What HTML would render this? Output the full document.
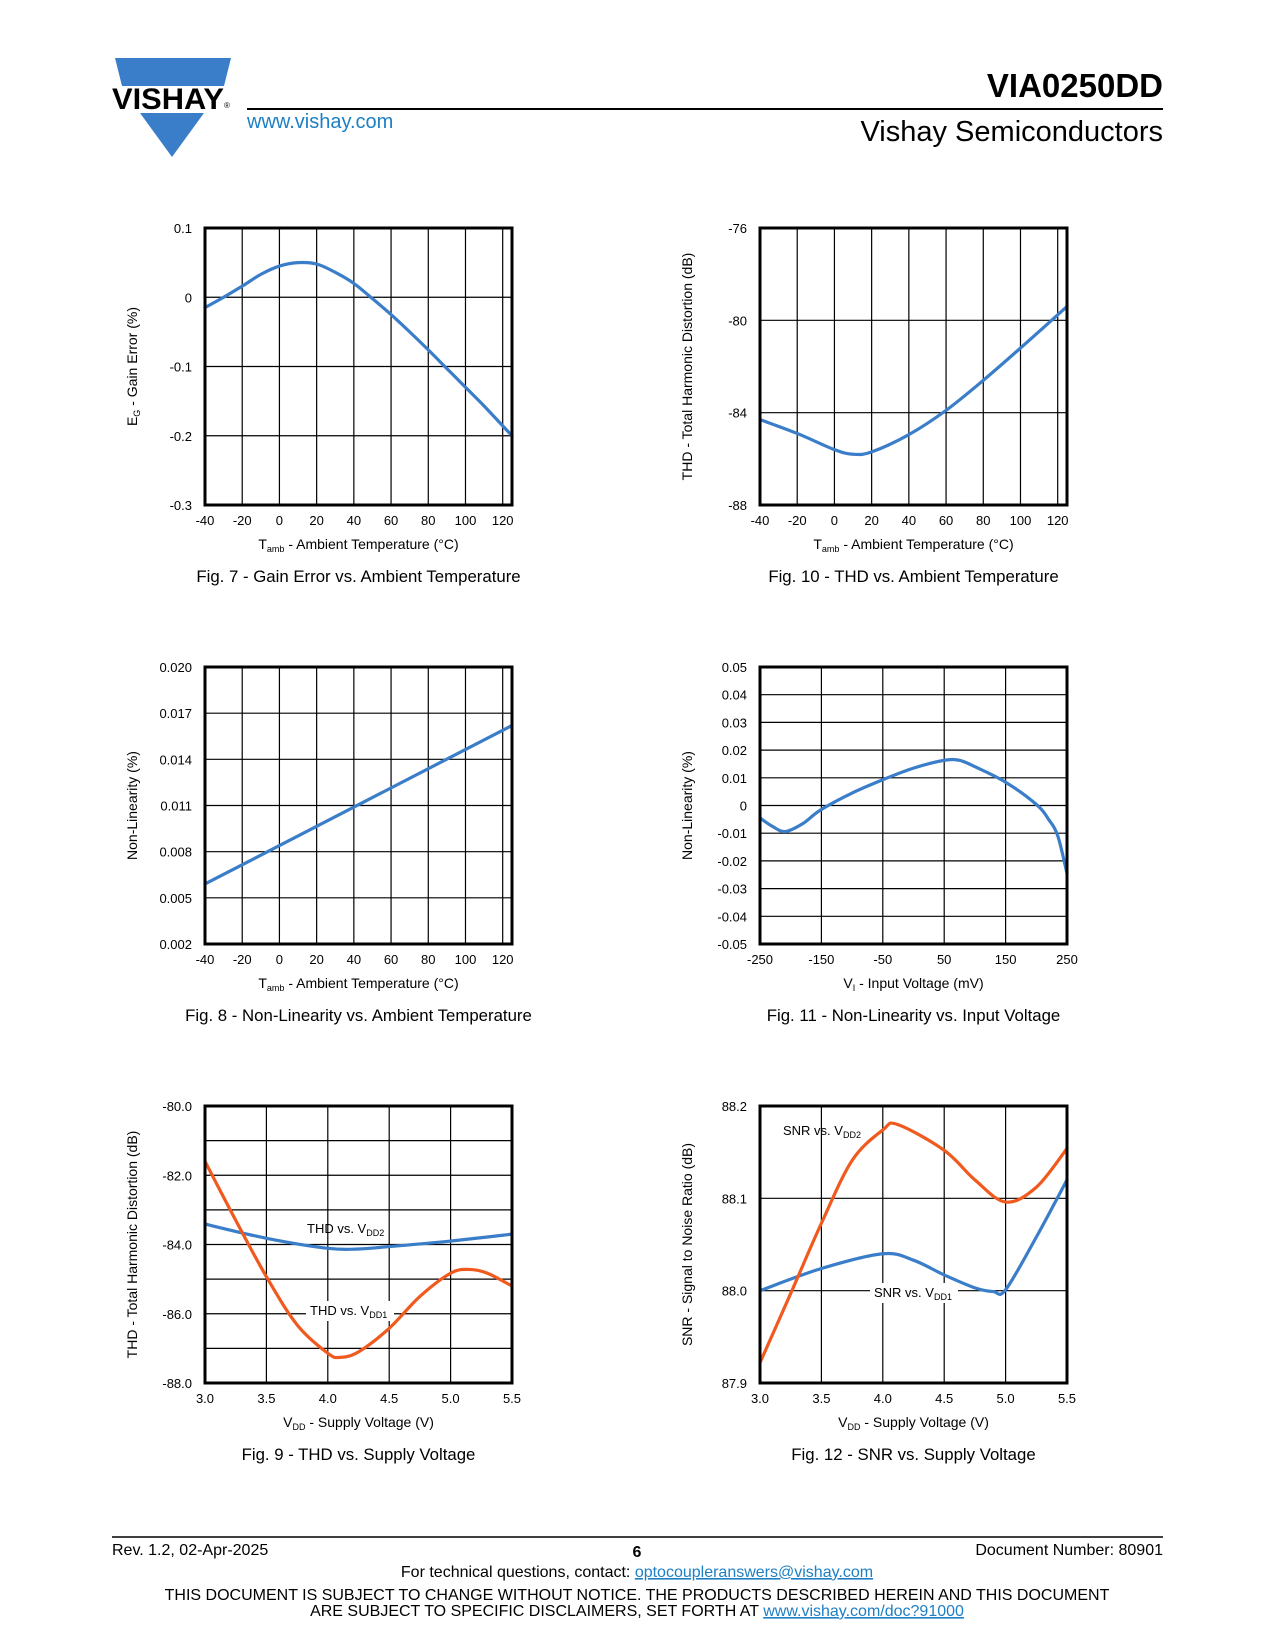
<!DOCTYPE html>
<html><head><meta charset="utf-8"><title>VIA0250DD</title>
<style>
html,body{margin:0;padding:0;background:#fff;}
svg{display:block;font-family:"Liberation Sans",sans-serif;}
</style></head>
<body>
<svg id="page" width="1275" height="1650" viewBox="0 0 1275 1650" xmlns="http://www.w3.org/2000/svg">
  <g>
    <polygon points="115,58 231,58 224,86 122,86" fill="#3a7dc9"/>
    <text x="112" y="109" font-size="30" font-weight="bold" fill="#000" textLength="112" lengthAdjust="spacingAndGlyphs">VISHAY</text>
    <text x="224" y="108" font-size="8" fill="#000">®</text>
    <polygon points="140,113 204,113 172,157" fill="#3a7dc9"/>
  </g>
  <a><text x="247" y="128" font-size="20" fill="#1d7fc4">www.vishay.com</text></a>
  <line x1="247" y1="109" x2="1163" y2="109" stroke="#000" stroke-width="2"/>
  <text x="1163" y="97" font-size="33" font-weight="bold" text-anchor="end">VIA0250DD</text>
  <text x="1163" y="141" font-size="29" text-anchor="end">Vishay Semiconductors</text>

  <g id="charts"></g>

  <line x1="112" y1="1537" x2="1163" y2="1537" stroke="#000" stroke-width="1.5"/>
  <text x="112" y="1555" font-size="16">Rev. 1.2, 02-Apr-2025</text>
  <text x="637" y="1557" font-size="16" font-weight="bold" text-anchor="middle">6</text>
  <text x="1163" y="1555" font-size="16" text-anchor="end">Document Number: 80901</text>
  <text x="637" y="1577" font-size="16" text-anchor="middle">For technical questions, contact: <tspan fill="#1d7fc4" text-decoration="underline">optocoupleranswers@vishay.com</tspan></text>
  <text x="637" y="1600" font-size="16" text-anchor="middle">THIS DOCUMENT IS SUBJECT TO CHANGE WITHOUT NOTICE. THE PRODUCTS DESCRIBED HEREIN AND THIS DOCUMENT</text>
  <text x="637" y="1616" font-size="16" text-anchor="middle">ARE SUBJECT TO SPECIFIC DISCLAIMERS, SET FORTH AT <tspan fill="#1d7fc4" text-decoration="underline">www.vishay.com/doc?91000</tspan></text>
</svg>
<script>
// ---- data ----
const tempX = [-40,-30,-20,-10,0,10,20,30,40,50,60,70,80,90,100,110,125];
const gainErr = [-0.015,0.0,0.016,0.033,0.045,0.050,0.048,0.036,0.020,-0.002,-0.025,-0.050,-0.076,-0.103,-0.130,-0.157,-0.200];
const tempTicks = [-40,-20,0,20,40,60,80,100,120];
const gainTicks = [0.1,0,-0.1,-0.2,-0.3];
const gainTickLabels = ["0.1","0","-0.1","-0.2","-0.3"];

const thdTempX = [-40,-20,0,10,20,40,60,80,100,125];
const thdTemp = [-84.3,-84.9,-85.6,-85.8,-85.7,-84.95,-83.9,-82.6,-81.2,-79.4];
const thdTempTicks = [-76,-80,-84,-88];

const nlTempX = [-40,125];
const nlTemp = [0.0059,0.0162];
const nlTempTicks = [0.020,0.017,0.014,0.011,0.008,0.005,0.002];
const nlTempTickLabels = ["0.020","0.017","0.014","0.011","0.008","0.005","0.002"];

const vinX = [-250,-230,-209,-180,-152,-100,-50,0,50,75,100,150,200,220,235,250];
const nlVin = [-0.0045,-0.0075,-0.0094,-0.0065,-0.0017,0.0045,0.0093,0.0135,0.0163,0.0163,0.0140,0.0084,0.0004,-0.0050,-0.0110,-0.0245];
const vinTicks = [-250,-150,-50,50,150,250];
const nlVinTicks = [0.05,0.04,0.03,0.02,0.01,0,-0.01,-0.02,-0.03,-0.04,-0.05];
const nlVinTickLabels = ["0.05","0.04","0.03","0.02","0.01","0","-0.01","-0.02","-0.03","-0.04","-0.05"];

const vddX2 = [3.0,3.5,4.0,4.25,4.5,5.0,5.5];
const thdVdd2 = [-83.41,-83.82,-84.11,-84.13,-84.06,-83.9,-83.7];
const vddX1 = [3.0,3.25,3.5,3.75,4.0,4.1,4.25,4.5,4.75,5.0,5.15,5.3,5.5];
const thdVdd1 = [-81.6,-83.3,-84.93,-86.32,-87.14,-87.26,-87.1,-86.42,-85.5,-84.83,-84.72,-84.83,-85.2];
const vddTicks = [3.0,3.5,4.0,4.5,5.0,5.5];
const vddTickLabels = ["3.0","3.5","4.0","4.5","5.0","5.5"];
const thdVddTicks = [-80,-82,-84,-86,-88];
const thdVddTickLabels = ["-80.0","-82.0","-84.0","-86.0","-88.0"];
const thdVddGrid = [-81,-82,-83,-84,-85,-86,-87];

const snrX1 = [3.0,3.5,4.0,4.25,4.5,4.75,4.9,5.0,5.25,5.5];
const snrVdd1 = [88.0,88.024,88.040,88.033,88.017,88.003,87.999,88.001,88.058,88.120];
const snrX2 = [3.0,3.25,3.5,3.75,4.0,4.12,4.5,4.75,5.0,5.25,5.5];
const snrVdd2 = [87.922,87.997,88.073,88.141,88.174,88.180,88.152,88.120,88.096,88.112,88.154];
const snrTicks = [88.2,88.1,88.0,87.9];
const snrTickLabels = ["88.2","88.1","88.0","87.9"];

// ---- drawing ----
const NS = "http://www.w3.org/2000/svg";
const root = document.getElementById('charts');
const BLUE = "#3a7dc9", ORANGE = "#f05a1e";
function mk(tag, attrs, parent){
  const e = document.createElementNS(NS, tag);
  for (const k in attrs) e.setAttribute(k, attrs[k]);
  (parent||root).appendChild(e);
  return e;
}
function scale(d0,d1,r0,r1){ return v => r0 + (v-d0)/(d1-d0)*(r1-r0); }
function splinePath(xs, ys, sx, sy){
  const p = xs.map((x,i)=>[sx(x), sy(ys[i])]);
  if (p.length < 3) return "M"+p.map(q=>q.join(",")).join(" L");
  let d = "M"+p[0][0]+","+p[0][1];
  for (let i=0;i<p.length-1;i++){
    const p0=p[Math.max(0,i-1)], p1=p[i], p2=p[i+1], p3=p[Math.min(p.length-1,i+2)];
    const c1=[p1[0]+(p2[0]-p0[0])/6, p1[1]+(p2[1]-p0[1])/6];
    const c2=[p2[0]-(p3[0]-p1[0])/6, p2[1]-(p3[1]-p1[1])/6];
    d += " C"+c1.join(",")+" "+c2.join(",")+" "+p2.join(",");
  }
  return d;
}
function chart(c){
  const g = mk('g', {});
  
  
  const sx = scale(c.xmin, c.xmax, c.L, c.R);
  const sy = scale(c.ymin, c.ymax, c.B, c.T);
  c.vgrid.forEach(v => { const x = sx(v); mk('line', {x1:x,y1:c.T,x2:x,y2:c.B,stroke:'#000','stroke-width':1.2}, g); });
  c.hgrid.forEach(v => { const y = sy(v); mk('line', {x1:c.L,y1:y,x2:c.R,y2:y,stroke:'#000','stroke-width':1.2}, g); });
  c.series.forEach(s => {
    const p = mk('path', {d:splinePath(s.x, s.y, sx, sy), fill:'none', stroke:s.color, 'stroke-width':3.2, 'stroke-linecap':'round', 'stroke-linejoin':'round'}, g);
    
    
  });
  (c.labels||[]).forEach(l => {
    if (l.bg) mk('rect', {x:l.x-4, y:l.y-14, width:l.w, height:20, fill:'#fff'}, g);
    const t = mk('text', {x:l.x, y:l.y, 'font-size':13}, g);
    
    
    t.appendChild(document.createTextNode(l.main));
    const ts = mk('tspan', {'font-size':9, dy:3}, t); ts.textContent = l.sub;
  });
  mk('rect', {x:c.L, y:c.T, width:c.R-c.L, height:c.B-c.T, fill:'none', stroke:'#000', 'stroke-width':3}, g);
  c.xticks.forEach((v,i) => {
    const t = mk('text', {x:sx(v), y:c.B+20, 'font-size':13, 'text-anchor':'middle'}, g);
    
    
    t.textContent = c.xtl ? c.xtl[i] : String(v);
  });
  c.yticks.forEach((v,i) => {
    const t = mk('text', {x:c.L-13, y:sy(v)+5, 'font-size':13, 'text-anchor':'end'}, g);
    
    
    t.textContent = c.ytl ? c.ytl[i] : String(v);
  });
  const xt = mk('text', {x:(c.L+c.R)/2, y:c.B+44, 'font-size':14, 'text-anchor':'middle'}, g);
  
  
  xt.appendChild(document.createTextNode(c.xt[0]));
  const xs = mk('tspan', {'font-size':9, dy:3}, xt); xs.textContent = c.xt[1];
  const xr = mk('tspan', {dy:-3}, xt); xr.textContent = c.xt[2];
  const yx = c.L - 68, ym = (c.T+c.B)/2;
  const yt = mk('text', {x:yx, y:ym, 'font-size':14, 'text-anchor':'middle', transform:`rotate(-90 ${yx} ${ym})`}, g);
  
  
  yt.appendChild(document.createTextNode(c.yt[0]));
  if (c.yt[1]) { const a = mk('tspan', {'font-size':9, dy:3}, yt); a.textContent = c.yt[1]; const b = mk('tspan', {dy:-3}, yt); b.textContent = c.yt[2]; }
  const cap = mk('text', {x:(c.L+c.R)/2, y:c.B+77, 'font-size':16.8, 'text-anchor':'middle'}, g);
  
  
  cap.textContent = c.caption;
}
const tempGrid = [-20,0,20,40,60,80,100,120];
const tempXT = ["T","amb"," - Ambient Temperature (°C)"];
const LC = {L:205,R:512}, RC = {L:760,R:1067};
const R1 = {T:228,B:505}, R2 = {T:667,B:944}, R3 = {T:1106,B:1383};

chart({name:'fig7-gain-error-chart', ...LC, ...R1, xmin:-40,xmax:125,ymin:-0.3,ymax:0.1,
  vgrid:tempGrid, hgrid:[0,-0.1,-0.2], xticks:tempTicks, yticks:gainTicks, ytl:gainTickLabels,
  series:[{name:'gain-error-line',x:tempX,y:gainErr,color:BLUE}],
  xt:tempXT, yt:["E","G"," - Gain Error (%)"], caption:"Fig. 7 - Gain Error vs. Ambient Temperature"});
chart({name:'fig10-thd-temp-chart', ...RC, ...R1, xmin:-40,xmax:125,ymin:-88,ymax:-76,
  vgrid:tempGrid, hgrid:[-80,-84], xticks:tempTicks, yticks:thdTempTicks,
  series:[{name:'thd-temp-line',x:thdTempX,y:thdTemp,color:BLUE}],
  xt:tempXT, yt:["THD - Total Harmonic Distortion (dB)"], caption:"Fig. 10 - THD vs. Ambient Temperature"});
chart({name:'fig8-nonlinearity-temp-chart', ...LC, ...R2, xmin:-40,xmax:125,ymin:0.002,ymax:0.020,
  vgrid:tempGrid, hgrid:[0.017,0.014,0.011,0.008,0.005], xticks:tempTicks, yticks:nlTempTicks, ytl:nlTempTickLabels,
  series:[{name:'nonlinearity-temp-line',x:nlTempX,y:nlTemp,color:BLUE}],
  xt:tempXT, yt:["Non-Linearity (%)"], caption:"Fig. 8 - Non-Linearity vs. Ambient Temperature"});
chart({name:'fig11-nonlinearity-vin-chart', ...RC, ...R2, xmin:-250,xmax:250,ymin:-0.05,ymax:0.05,
  vgrid:[-150,-50,50,150], hgrid:[0.04,0.03,0.02,0.01,0,-0.01,-0.02,-0.03,-0.04], xticks:vinTicks, yticks:nlVinTicks, ytl:nlVinTickLabels,
  series:[{name:'nonlinearity-vin-line',x:vinX,y:nlVin,color:BLUE}],
  xt:["V","I"," - Input Voltage (mV)"], yt:["Non-Linearity (%)"], caption:"Fig. 11 - Non-Linearity vs. Input Voltage"});
chart({name:'fig9-thd-vdd-chart', ...LC, ...R3, xmin:3.0,xmax:5.5,ymin:-88,ymax:-80,
  vgrid:[3.5,4.0,4.5,5.0], hgrid:thdVddGrid, xticks:vddTicks, xtl:vddTickLabels, yticks:thdVddTicks, ytl:thdVddTickLabels,
  series:[{name:'thd-vdd2-line',x:vddX2,y:thdVdd2,color:BLUE},{name:'thd-vdd1-line',x:vddX1,y:thdVdd1,color:ORANGE}],
  labels:[{name:'thd-vdd2-label',x:307,y:1233,main:'THD vs. V',sub:'DD2',bg:false},
          {name:'thd-vdd1-label',x:310,y:1315,main:'THD vs. V',sub:'DD1',bg:true,w:88}],
  xt:["V","DD"," - Supply Voltage (V)"], yt:["THD - Total Harmonic Distortion (dB)"], caption:"Fig. 9 - THD vs. Supply Voltage"});
chart({name:'fig12-snr-vdd-chart', ...RC, ...R3, xmin:3.0,xmax:5.5,ymin:87.9,ymax:88.2,
  vgrid:[3.5,4.0,4.5,5.0], hgrid:[88.1,88.0], xticks:vddTicks, xtl:vddTickLabels, yticks:snrTicks, ytl:snrTickLabels,
  series:[{name:'snr-vdd1-line',x:snrX1,y:snrVdd1,color:BLUE},{name:'snr-vdd2-line',x:snrX2,y:snrVdd2,color:ORANGE}],
  labels:[{name:'snr-vdd2-label',x:783,y:1135,main:'SNR vs. V',sub:'DD2',bg:false},
          {name:'snr-vdd1-label',x:874,y:1297,main:'SNR vs. V',sub:'DD1',bg:true,w:88}],
  xt:["V","DD"," - Supply Voltage (V)"], yt:["SNR - Signal to Noise Ratio (dB)"], caption:"Fig. 12 - SNR vs. Supply Voltage"});
</script>
</body></html>
